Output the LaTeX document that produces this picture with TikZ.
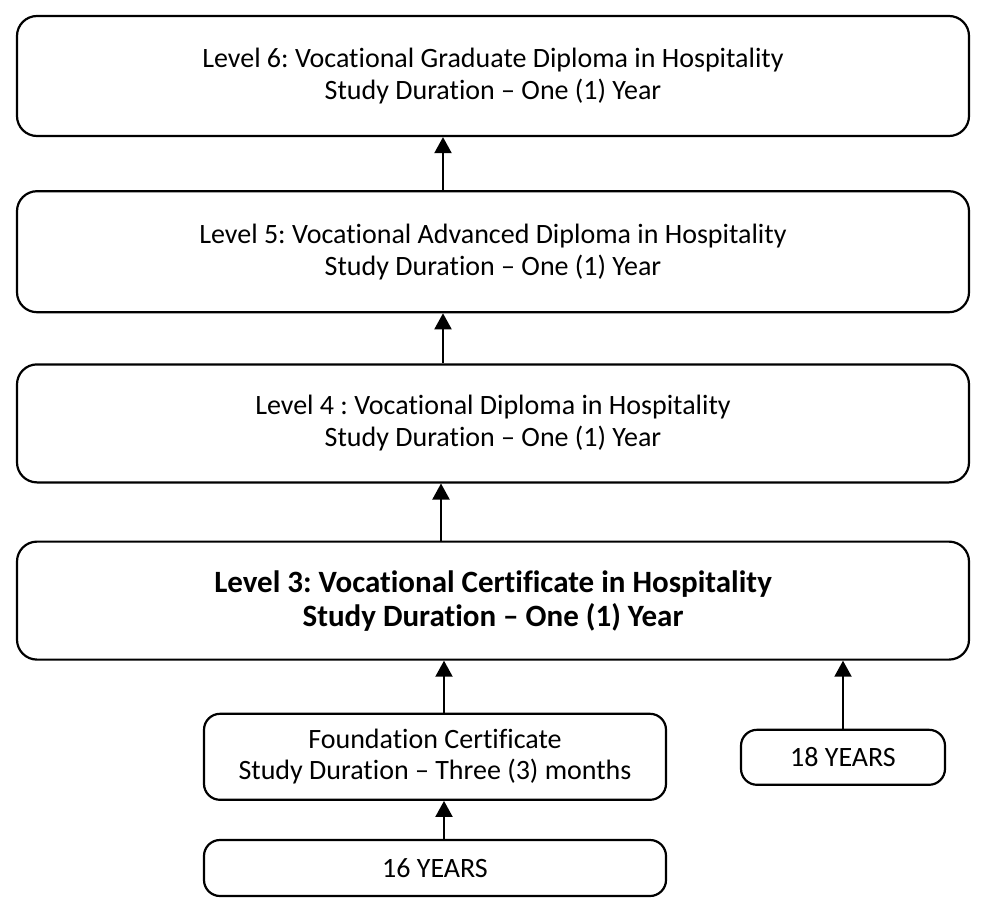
\documentclass[tikz,border=0pt]{standalone}
\usepackage{fontspec}
\setmainfont{Carlito}[Ligatures={NoCommon}]
\usepackage{tikz}
\usetikzlibrary{shapes,arrows.meta,positioning}
\frenchspacing
\tikzstyle{level} = [rectangle, draw, line width=2.2pt, rounded corners=20pt,
minimum width=952pt, minimum height=120pt, align=center, font=\fontsize{28}{32}\selectfont]
\tikzstyle{entry} = [rectangle, draw, line width=2.2pt, rounded corners=16pt,
align=center, font=\fontsize{28}{31}\selectfont]
\tikzstyle{pijl} = [draw, line width=2pt, -{Triangle[width=17pt,length=16pt]}]

\begin{document}
\begin{tikzpicture}[x=1pt, y=-1pt]
	\useasboundingbox (0,0) rectangle (984,901);
	\node [level] (level6) at (493,76) {Level 6: Vocational Graduate Diploma in Hospitality\\ Study Duration -- One (1) Year};
	\node [level, minimum height=121pt, below=53pt of level6] (level5) {Level 5: Vocational Advanced Diploma in Hospitality\\ Study Duration -- One (1) Year};
	\node [level, minimum height=118pt, below=50pt of level5] (level4) {Level 4 : Vocational Diploma in Hospitality\\ Study Duration -- One (1) Year};
	\node [level, minimum height=118pt, below=57pt of level4, font=\fontsize{31}{34}\selectfont\bfseries] (level3) {Level 3: Vocational Certificate in Hospitality\\ Study Duration -- One (1) Year};
	
	
	\node [entry, minimum width=462pt, minimum height=86pt, below=52pt of level3, xshift=-58pt] (foundation) {Foundation Certificate\\ Study Duration -- Three (3) months};
	\node [entry, minimum width=462pt, minimum height=56pt, below=38pt of foundation] (sixteen) {16 YEARS};
	\node [entry, minimum width=204pt, minimum height=55pt, below=68pt of level3, xshift=350pt] (eighteen) {18 YEARS};
	
	
	\path [pijl] ([xshift=-50pt]level5.north) -- ([xshift=-50pt]level6.south);
	\path [pijl] ([xshift=-50pt]level4.north) -- ([xshift=-50pt]level5.south);
	\path [pijl] ([xshift=-52pt]level3.north) -- ([xshift=-52pt]level4.south);
	\path [pijl] ([xshift=9pt]foundation.north) -- ([xshift=9pt]foundation.north |- level3.south);
	\path [pijl] ([xshift=9pt]sixteen.north) -- ([xshift=9pt]foundation.south);
	\path [pijl] (eighteen) -- (eighteen |- level3.south);
\end{tikzpicture}
\end{document}
